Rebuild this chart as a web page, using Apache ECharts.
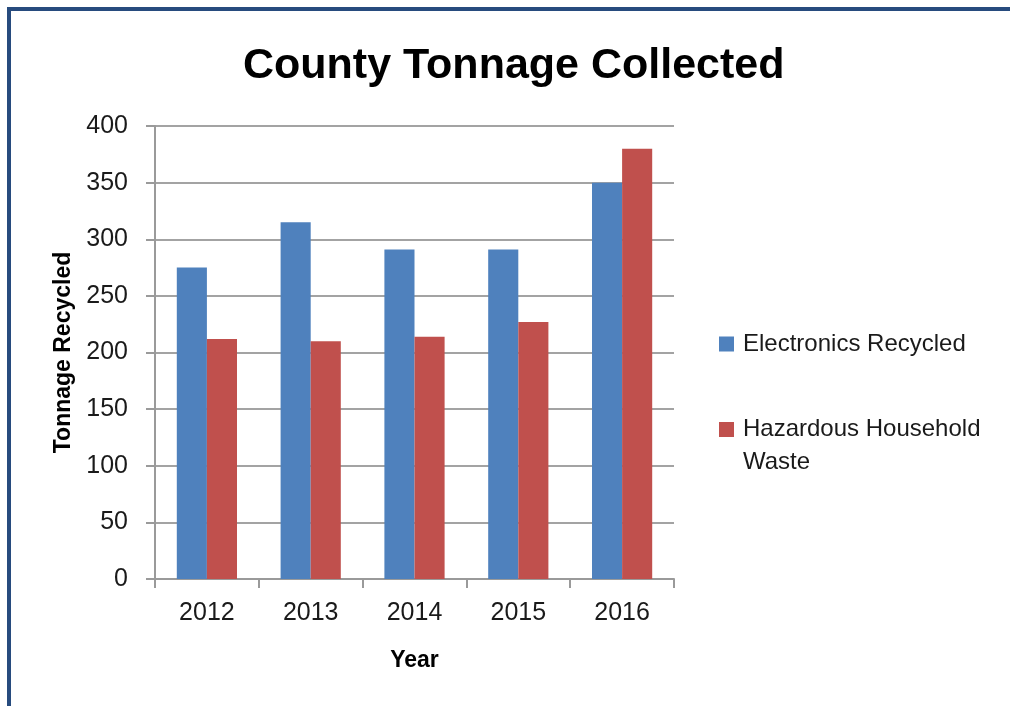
<!DOCTYPE html>
<html>
<head>
<meta charset="utf-8">
<script src="https://cdn.jsdelivr.net/npm/echarts@6/dist/echarts.min.js"></script>
<style>
  html, body { margin: 0; padding: 0; background: #ffffff; }
  #chart { position: absolute; left: 0; top: 0; width: 1010px; height: 706px; }
  #frame { position: absolute; left: 7px; top: 7px; width: 1003px; height: 699px;
           border-top: 4px solid #274b7e; border-left: 4px solid #274b7e; box-sizing: border-box; pointer-events: none; }
</style>
</head>
<body>
<div id="chart"></div>
<div id="frame"></div>
<script>
const years = ['2012', '2013', '2014', '2015', '2016'];
const electronicsRecycled = [275, 315, 291, 291, 350];
const hazardousHouseholdWaste = [212, 210, 214, 227, 380];
const seriesNames = ['Electronics Recycled', 'Hazardous Household Waste'];

const FONT = '"Liberation Sans", Arial, sans-serif';
const chart = echarts.init(document.getElementById('chart'));
chart.setOption({
  animation: false,
  backgroundColor: '#ffffff',
  title: {
    text: 'County Tonnage Collected',
    left: 243,
    top: 43,
    padding: 0,
    textStyle: { fontFamily: FONT, fontSize: 43, fontWeight: 'bold', color: '#000000', lineHeight: 46 }
  },
  legend: [
    {
      data: [seriesNames[0]],
      orient: 'vertical',
      left: 719,
      top: 329,
      padding: 0,
      itemWidth: 15,
      itemHeight: 15,
      icon: 'rect',
      textStyle: { fontFamily: FONT, fontSize: 24, color: '#1a1a1a', lineHeight: 30, padding: [0, 0, 0, 4] }
    },
    {
      data: [seriesNames[1]],
      orient: 'vertical',
      left: 719,
      top: 380,
      padding: 0,
      itemWidth: 15,
      itemHeight: 15,
      icon: 'rect',
      formatter: function () { return '\nHazardous Household\nWaste'; },
      textStyle: { fontFamily: FONT, fontSize: 24, color: '#1a1a1a', lineHeight: 33, padding: [0, 0, 0, 4] }
    }
  ],
  grid: { left: 155, right: 336, top: 126, bottom: 127, containLabel: false },
  xAxis: {
    type: 'category',
    data: years,
    name: 'Year',
    nameLocation: 'middle',
    nameGap: 70,
    nameTextStyle: { fontFamily: FONT, fontSize: 23, fontWeight: 'bold', color: '#000000' },
    axisLine: { lineStyle: { color: '#9a9a9a', width: 2 } },
    axisTick: { show: true, length: 9, lineStyle: { color: '#9a9a9a', width: 2 } },
    axisLabel: { fontFamily: FONT, fontSize: 25, color: '#1a1a1a', margin: 22 }
  },
  yAxis: {
    type: 'value',
    min: 0,
    max: 400,
    interval: 50,
    name: 'Tonnage Recycled',
    nameLocation: 'middle',
    nameRotate: 90,
    nameGap: 79,
    nameTextStyle: { fontFamily: FONT, fontSize: 23, fontWeight: 'bold', color: '#000000' },
    axisLine: { show: true, lineStyle: { color: '#9a9a9a', width: 2 } },
    axisTick: { show: true, length: 9, lineStyle: { color: '#9a9a9a', width: 2 } },
    axisLabel: { fontFamily: FONT, fontSize: 25, color: '#1a1a1a', margin: 27 },
    splitLine: { lineStyle: { color: '#a3a3a3', width: 2 } }
  },
  series: [
    {
      name: seriesNames[0],
      type: 'bar',
      data: electronicsRecycled,
      itemStyle: { color: '#4f81bd' },
      barGap: '0%',
      barCategoryGap: '42%'
    },
    {
      name: seriesNames[1],
      type: 'bar',
      data: hazardousHouseholdWaste,
      itemStyle: { color: '#c0504d' },
      barGap: '0%',
      barCategoryGap: '42%'
    }
  ]
});
</script>
</body>
</html>
